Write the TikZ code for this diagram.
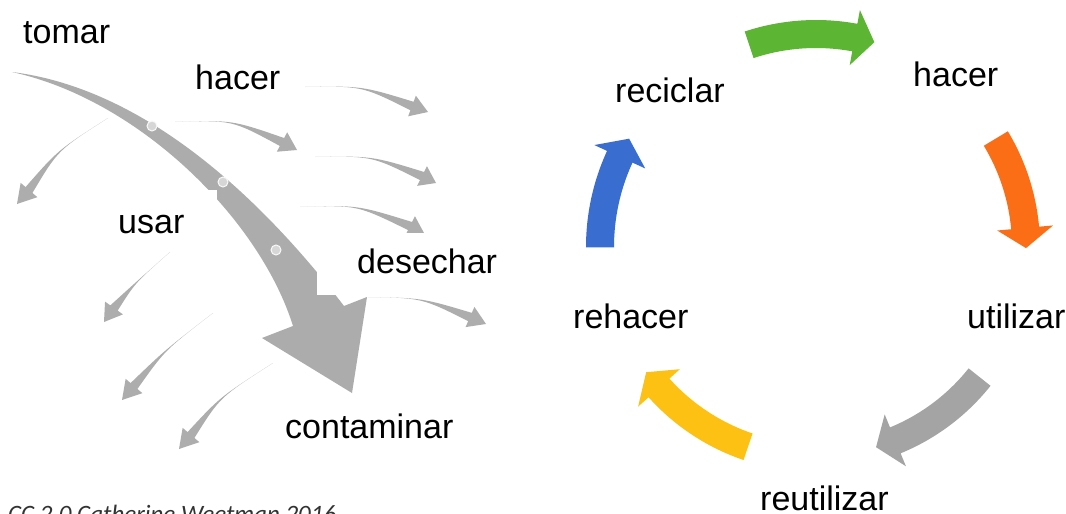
\documentclass[tikz,border=0pt]{standalone}
\usepackage{fontspec}
\setmainfont{Liberation Sans}
\newfontfamily\carlfont{Carlito}
\usetikzlibrary{calc}
\definecolor{maingray}{HTML}{ACACAC}
\definecolor{smallgray}{HTML}{ADADAD}
\definecolor{dotgray}{HTML}{D6D6D6}
\definecolor{cgreen}{HTML}{5DB534}
\definecolor{corange}{HTML}{FB6E15}
\definecolor{cgray}{HTML}{A4A4A4}
\definecolor{cyellow}{HTML}{FDC114}
\definecolor{cblue}{HTML}{3A6DD0}
\definecolor{credit}{HTML}{333333}
\tikzset{
  lbl/.style={anchor=base west, inner sep=0pt, font=\fontsize{34}{40}\selectfont, text=black},
  creditlbl/.style={anchor=base west, inner sep=0pt, font=\carlfont\itshape\fontsize{25}{30}\selectfont, text=credit},
  flowdot/.style={circle, fill=dotgray, draw=white!85!dotgray, line width=1pt, minimum size=10pt, inner sep=0pt},
  cover/.style={fill=white, draw=none}
}
% small tapered gray arrow: tail, control, head base, tip
\newcommand\smallarrow[4]{%
  \fill[smallgray] #1 .. controls #2 .. ($#3!4.5pt!90:#4$) -- ($#3!11pt!90:#4$) -- #4
    -- ($#3!11pt!-90:#4$) -- ($#3!4.5pt!-90:#4$) .. controls #2 .. #1 -- cycle;}
% cycle arrow: colour, radius, tail angle, base angle, tip angle
\newcommand\cycarrow[5]{%
  \pgfmathsetmacro\cyRo{#2+14}\pgfmathsetmacro\cyRi{#2-14}%
  \pgfmathsetmacro\cyHo{#2+28}\pgfmathsetmacro\cyHi{#2-28}%
  \fill[#1] (#3:\cyRo) arc[start angle=#3, end angle=#4, radius=\cyRo]
    -- (#4:\cyHo) -- (#5:#2) -- (#4:\cyHi) -- (#4:\cyRi)
    arc[start angle=#4, end angle=#3, radius=\cyRi] -- cycle;}
\begin{document}
\begin{tikzpicture}[x=1pt,y=1pt]
\useasboundingbox (0,0) rectangle (1066,-514);
\clip (0,0) rectangle (1066,-514);
\fill[white] (0,0) rectangle (1066,-514);

% ---- left: linear economy ----
\fill[maingray] (12,-72) .. controls (140,-88) and (255,-190) .. (344,-306)
  -- (367,-297) -- (352,-393) -- (262,-338) -- (293,-326)
  .. controls (260,-220) and (140,-100) .. (12,-72) -- cycle;
\node[flowdot] (d1) at (152,-126) {};
\node[flowdot] (d2) at (223,-182) {};
\node[flowdot] (d3) at (276,-250) {};

% arrows to the left
\smallarrow{(108,-118)}{(58,-150)}{(29,-190)}{(17,-204)}
\smallarrow{(170,-252)}{(135,-283)}{(114,-308)}{(104,-322)}
\smallarrow{(213,-313)}{(165,-350)}{(134,-386)}{(122,-400)}
\smallarrow{(273,-363)}{(220,-397)}{(191,-435)}{(179,-449)}
% arrows to the right
\smallarrow{(305,-87)}{(362,-86)}{(412,-106)}{(428,-112)}
\smallarrow{(175,-122)}{(232,-120)}{(282,-142)}{(297,-150)}
\smallarrow{(315,-157)}{(372,-156)}{(422,-176)}{(436,-183)}
\smallarrow{(300,-207)}{(357,-205)}{(410,-226)}{(424,-233)}
\smallarrow{(368,-297)}{(422,-298)}{(470,-317)}{(486,-324)}

% text boxes that hide parts of the arrows
\fill[cover] (317,-233) rectangle (510,-295);
\fill[cover] (100,-190) rectangle (217,-240);

\node[lbl] (tomar) at (23,-43) {tomar};
\node[lbl] (hacerA) at (195,-89) {hacer};
\node[lbl] (usar) at (118,-233) {usar};
\node[lbl] (desechar) at (357,-273) {desechar};
\node[lbl] (contaminar) at (285,-438) {contaminar};

% ---- right: circular economy ----
\begin{scope}[shift={(816,-247)}]
  \cycarrow{cgreen}{213}{108.3}{79.5}{74.1}
  \cycarrow{corange}{210}{31.1}{5.2}{-0.3}
  \cycarrow{cgray}{209}{-38.5}{-67.7}{-73.3}
  \cycarrow{cyellow}{211}{-108.8}{-138.1}{-143.6}
  \cycarrow{cblue}{216}{180.1}{155.3}{149.9}
\end{scope}

\node[lbl] (reciclar) at (615,-102) {reciclar};
\node[lbl] (hacerB) at (913,-86) {hacer};
\node[lbl] (utilizar) at (967,-328) {utilizar};
\node[lbl] (rehacer) at (573,-328) {rehacer};
\node[lbl] (reutilizar) at (760,-510) {reutilizar};

\node[creditlbl] (credit) at (8,-522) {CC 2.0 Catherine Weetman 2016};
\end{tikzpicture}
\end{document}
